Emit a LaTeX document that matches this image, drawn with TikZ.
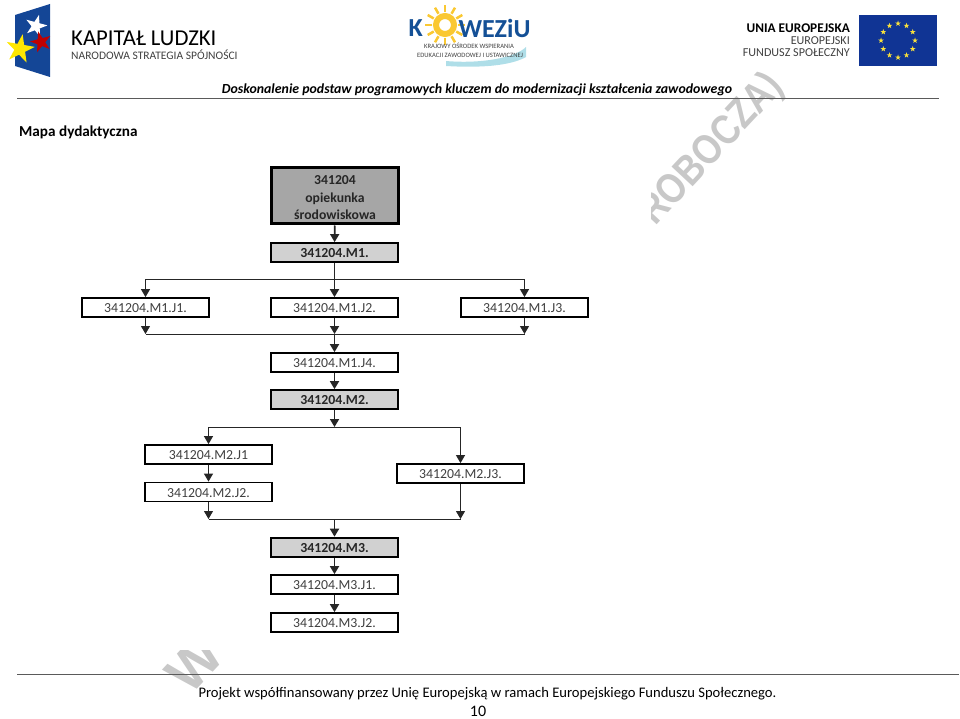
\documentclass[tikz,border=0pt]{standalone}
\usepackage{fontspec}
\setmainfont{Carlito}
\newfontfamily\markfont{Liberation Sans}
\usetikzlibrary{shapes.geometric}
\usetikzlibrary{arrows.meta}
\definecolor{eublue}{RGB}{16,52,148}
\definecolor{euyellow}{RGB}{250,225,60}
\definecolor{flagblue}{RGB}{20,70,150}
\definecolor{kowblue}{RGB}{20,80,150}
\definecolor{sunyellow}{RGB}{250,200,50}
\definecolor{wavecyan}{RGB}{175,222,232}
\definecolor{inkgray}{RGB}{64,64,64}
\definecolor{markgray}{RGB}{200,200,200}
\definecolor{rulegray}{RGB}{90,90,90}
\tikzset{
  unit/.style={draw,line width=1.8pt,minimum width=127pt,minimum height=19pt,inner sep=0pt,
    text height=10pt,text depth=0pt,fill=white,text=inkgray,font=\fontsize{13.8}{15}\selectfont},
  modul/.style={unit,fill=black!18,text=black!85,font=\fontsize{13.8}{15}\selectfont\bfseries},
  wire/.style={line width=1pt,black!85},
  arr/.style={wire,-{Triangle[length=8pt,width=9pt]}},
  stem/.style={arr,line width=1.7pt},
  star5/.style={star,star points=5,star point ratio=2.6,inner sep=0pt,minimum size=#1},
  wmark/.style={rotate=47,inner sep=0pt,text=markgray,font=\markfont\fontsize{#1}{#1}\selectfont\bfseries},
}

\begin{document}
\begin{tikzpicture}[x=1pt,y=-1pt]
\useasboundingbox (0,0) rectangle (960,719);

% watermark
\node[wmark=56] (wmb) at (194,664) {W};
\node[wmark=42,xscale=.84] (wmc) at (712,150) {ROBOCZA)};
\fill[white] (140,152) rectangle (651,650);

% logo left
\fill[flagblue] (15,15) -- (50,4) -- (50,77) -- (15,66) -- cycle;
\node[star5=23pt,fill=white,rotate=-15] (stara) at (36,26) {};
\node[star5=22pt,fill=red!75!black,rotate=15] (starb) at (41,42) {};
\node[star5=30pt,fill=yellow!90!orange,rotate=-10] (starc) at (20,49) {};
\node[anchor=west,inner sep=0pt,font=\fontsize{22.7}{23}\selectfont] (kl) at (71,38) {KAPITAŁ LUDZKI};
\node[anchor=west,inner sep=0pt,text=inkgray,font=\fontsize{11.5}{12}\selectfont] (nss) at (71,55) {NARODOWA STRATEGIA SPÓJNOŚCI};

% logo middle
\fill[wavecyan] (446,61) .. controls (480,64) and (515,58) .. (526,47) -- (526,57) .. controls (510,66) and (480,68) .. (446,66) -- cycle;
\foreach \a in {0,30,...,330}
  \draw[sunyellow,line width=2.5pt] (445,25) ++(\a:13) -- ++(\a:7);
\draw[sunyellow,line width=6pt] (445,25) circle (9);
\node[anchor=west,text=kowblue,font=\fontsize{26}{26}\selectfont\bfseries] (kowa) at (405,28) {K};
\node[anchor=west,text=kowblue,font=\fontsize{26}{26}\selectfont\bfseries] (kowb) at (455,28) {WEZiU};
\node[text=inkgray,font=\fontsize{6.6}{7}\selectfont] (kowc) at (469,46) {KRAJOWY OŚRODEK WSPIERANIA};
\node[text=inkgray,font=\fontsize{6.6}{7}\selectfont] (kowd) at (470,55) {EDUKACJI ZAWODOWEJ I USTAWICZNEJ};

% logo right
\node[anchor=east,inner sep=0pt,font=\fontsize{13.3}{14}\selectfont\bfseries] (ue) at (850,28) {UNIA EUROPEJSKA};
\node[anchor=east,inner sep=0pt,text=inkgray,font=\fontsize{12.1}{13}\selectfont] (ef) at (850,41) {EUROPEJSKI};
\node[anchor=east,inner sep=0pt,text=inkgray,font=\fontsize{12.1}{13}\selectfont] (fs) at (850,53) {FUNDUSZ SPOŁECZNY};
\fill[eublue] (859,15) rectangle (937,66);
\foreach \a in {0,30,...,330}
  \node[star5=6pt,fill=euyellow] at ([shift={(\a:17)}]898,40.5) {};

% header
\node[anchor=base,inner sep=0pt,font=\fontsize{13.85}{14}\selectfont\bfseries\itshape] (head) at (477,93.5) {Doskonalenie podstaw programowych kluczem do modernizacji kształcenia zawodowego};
\coordinate (hl) at (17,99);
\coordinate (hr) at (939,99);
\draw[rulegray,line width=1pt] (hl) -- (hr);
\node[anchor=base west,inner sep=0pt,font=\fontsize{15.2}{15}\selectfont\bfseries] (mapa) at (19,136.5) {Mapa dydaktyczna};

% boxes
\node[unit,line width=3pt,fill=black!35,minimum height=56pt,text=black!85,text height=,text depth=,
  align=center,font=\fontsize{13.7}{17.5}\selectfont\bfseries] (top) at (335,196) {\rule{0pt}{12.7pt}341204\\opiekunka\\środowiskowa};
\node[modul] (m1) at (334.5,252.5) {341204.M1.};
\node[unit] (j1) at (145.5,307.5) {341204.M1.J1.};
\node[unit] (j2) at (334.5,307.5) {341204.M1.J2.};
\node[unit] (j3) at (524.5,307.5) {341204.M1.J3.};
\node[unit] (j4) at (334.5,362.5) {341204.M1.J4.};
\node[modul] (m2) at (334.5,399.5) {341204.M2.};
\node[unit] (k1) at (208.5,454.5) {341204.M2.J1};
\node[unit] (k2) at (208.5,492) {341204.M2.J2.};
\node[unit] (k3) at (460.5,473.5) {341204.M2.J3.};
\node[modul,line width=2.6pt] (m3) at (334.5,547.5) {341204.M3.};
\node[unit] (l1) at (334.5,584.5) {341204.M3.J1.};
\node[unit] (l2) at (334.5,622.5) {341204.M3.J2.};

% junctions
\coordinate (busa) at (334.5,279);
\coordinate (busb) at (334.5,334);
\coordinate (busc) at (334.5,427);
\coordinate (busd) at (334.5,519);

% connectors
\draw[stem] (top) -- (m1);
\draw[wire,line width=1.7pt] (m1) -- (busa);
\draw[stem] (busa) -- (j2);
\draw[arr] (busa) -| (j1);
\draw[arr] (busa) -| (j3);
\draw[stem] (j2) -- (busb);
\draw[arr] (j1) -- (j1 |- busb);
\draw[arr] (j3) -- (j3 |- busb);
\draw[wire] (j1 |- busb) -- (j3 |- busb);
\draw[stem] (busb) -- (j4);
\draw[stem] (j4) -- (m2);
\draw[stem] (m2) -- (busc);
\draw[arr] (busc) -| (k1);
\draw[arr] (busc) -| (k3);
\draw[arr] (k1) -- (k2);
\draw[arr] (k2) -- (k2 |- busd);
\draw[arr] (k3) -- (k3 |- busd);
\draw[wire] (k2 |- busd) -- (k3 |- busd);
\draw[stem] (busd) -- (m3);
\draw[stem] (m3) -- (l1);
\draw[stem] (l1) -- (l2);

% footer
\coordinate (fl) at (17,674);
\coordinate (fr) at (959,674);
\draw[rulegray,line width=1pt] (fl) -- (fr);
\node[anchor=base,inner sep=0pt,font=\fontsize{14.6}{15}\selectfont] (proj) at (487.5,697) {Projekt współfinansowany przez Unię Europejską w ramach Europejskiego Funduszu Społecznego.};
\node[anchor=base,inner sep=0pt,font=\fontsize{16}{16}\selectfont] (page) at (478,716) {10};
\end{tikzpicture}
\end{document}
